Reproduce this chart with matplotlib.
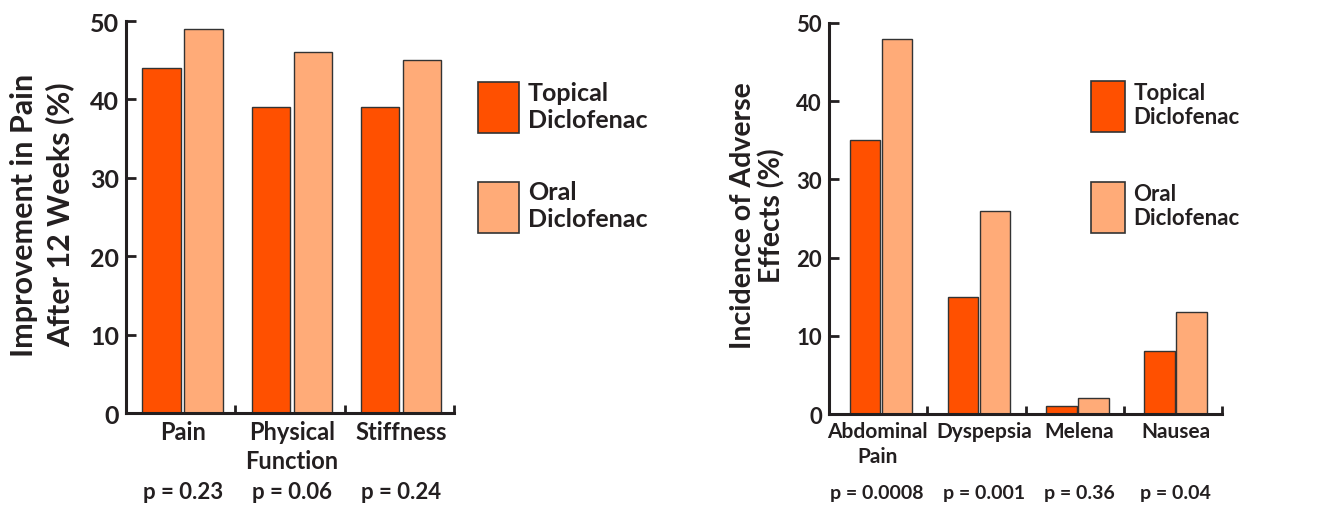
import numpy as np
import matplotlib.pyplot as plt
from matplotlib.patches import Patch

plt.rcParams['font.family'] = ['Lato', 'DejaVu Sans']
plt.rcParams['font.weight'] = 'bold'
TXT = '#231f20'
plt.rcParams['text.color'] = TXT
plt.rcParams['xtick.color'] = TXT
plt.rcParams['ytick.color'] = TXT

# efficacy panel
eff_cats = ['Pain', 'Physical\nFunction', 'Stiffness']
eff_topical = [44, 39, 39]
eff_oral = [49, 46, 45]
eff_p = ['p = 0.23', 'p = 0.06', 'p = 0.24']

# adverse effects panel
ae_cats = ['Abdominal\nPain', 'Dyspepsia', 'Melena', 'Nausea']
ae_topical = [35, 15, 1, 8]
ae_oral = [48, 26, 2, 13]
ae_p = ['p = 0.0008', 'p = 0.001', 'p = 0.36', 'p = 0.04']

TOP_C = '#ff5000'
ORAL_C = '#ffab78'
EDGE = '#333333'

fig = plt.figure(figsize=(13.44, 5.06), dpi=100)
ax1 = fig.add_axes([126/1344, 1-414/506, 328/1344, 392/506])
ax2 = fig.add_axes([829/1344, 1-415/506, 393/1344, 391/506])


def panel(ax, cats, top, oral, pvals, offs, w, lab_off, fs):
    # fs: (ticks, categories, p-values)
    n = len(cats)
    x = np.arange(n)
    ax.bar(x + offs[0], top, w, color=TOP_C, edgecolor=EDGE, linewidth=1.0, zorder=2)
    ax.bar(x + offs[1], oral, w, color=ORAL_C, edgecolor=EDGE, linewidth=1.0, zorder=2)
    ax.set_xlim(0, n)
    ax.set_ylim(0, 50)
    ax.set_yticks([0, 10, 20, 30, 40, 50])
    ax.set_xticks(np.arange(1, n + 1))
    ax.set_xticklabels([])
    centers = x + np.asarray(lab_off)
    ax.set_xticks(centers, minor=True)
    ax.set_xticklabels(cats, minor=True, fontsize=fs[1], linespacing=1.3)
    ax.tick_params(axis='x', which='minor', length=0, pad=5)
    ax.tick_params(axis='x', which='major', direction='in', length=6, width=2)
    ax.tick_params(axis='y', direction='in', length=7, width=2, labelsize=fs[0], pad=5)
    for s in ['top', 'right']:
        ax.spines[s].set_visible(False)
    for s in ['left', 'bottom']:
        ax.spines[s].set_linewidth(2.2)
        ax.spines[s].set_color(TXT)
    for c, p in zip(centers, pvals):
        ax.text(c, -0.2, p, transform=ax.get_xaxis_transform(),
                ha='center', va='center', fontsize=fs[2])


panel(ax1, eff_cats, eff_topical, eff_oral, eff_p, (0.325, 0.71), 0.35,
      0.52, (18, 17, 16))
panel(ax2, ae_cats, ae_topical, ae_oral, ae_p, (0.365, 0.69), 0.31,
      [0.49, 0.58, 0.55, 0.53], (16, 15, 14))

fig.text(42/1344, 0.575, 'Improvement in Pain\nAfter 12 Weeks (%)', rotation=90,
         ha='center', va='center', fontsize=22, fontweight='bold', linespacing=1.3)
fig.text(758/1344, 0.573, 'Incidence of Adverse\nEffects (%)', rotation=90,
         ha='center', va='center', fontsize=20.5, fontweight='bold', linespacing=1.12)

handles = [Patch(facecolor=TOP_C, edgecolor=EDGE, linewidth=1.2),
           Patch(facecolor=ORAL_C, edgecolor=EDGE, linewidth=1.2)]
labels = ['Topical\nDiclofenac', 'Oral\nDiclofenac']
for x0, hl, fsz, hh, ls in [(478/1344, 1.64, 18, 2.76, 1.87),
                            (1091/1344, 1.55, 16, 3.15, 2.25)]:
    fig.legend(handles, labels, loc='upper left', bbox_to_anchor=(x0, 1-82/506),
               frameon=False, borderpad=0, borderaxespad=0, fontsize=fsz,
               handlelength=hl, handleheight=hh, handletextpad=0.35,
               labelspacing=ls)

fig.savefig('out.png', dpi=100)
